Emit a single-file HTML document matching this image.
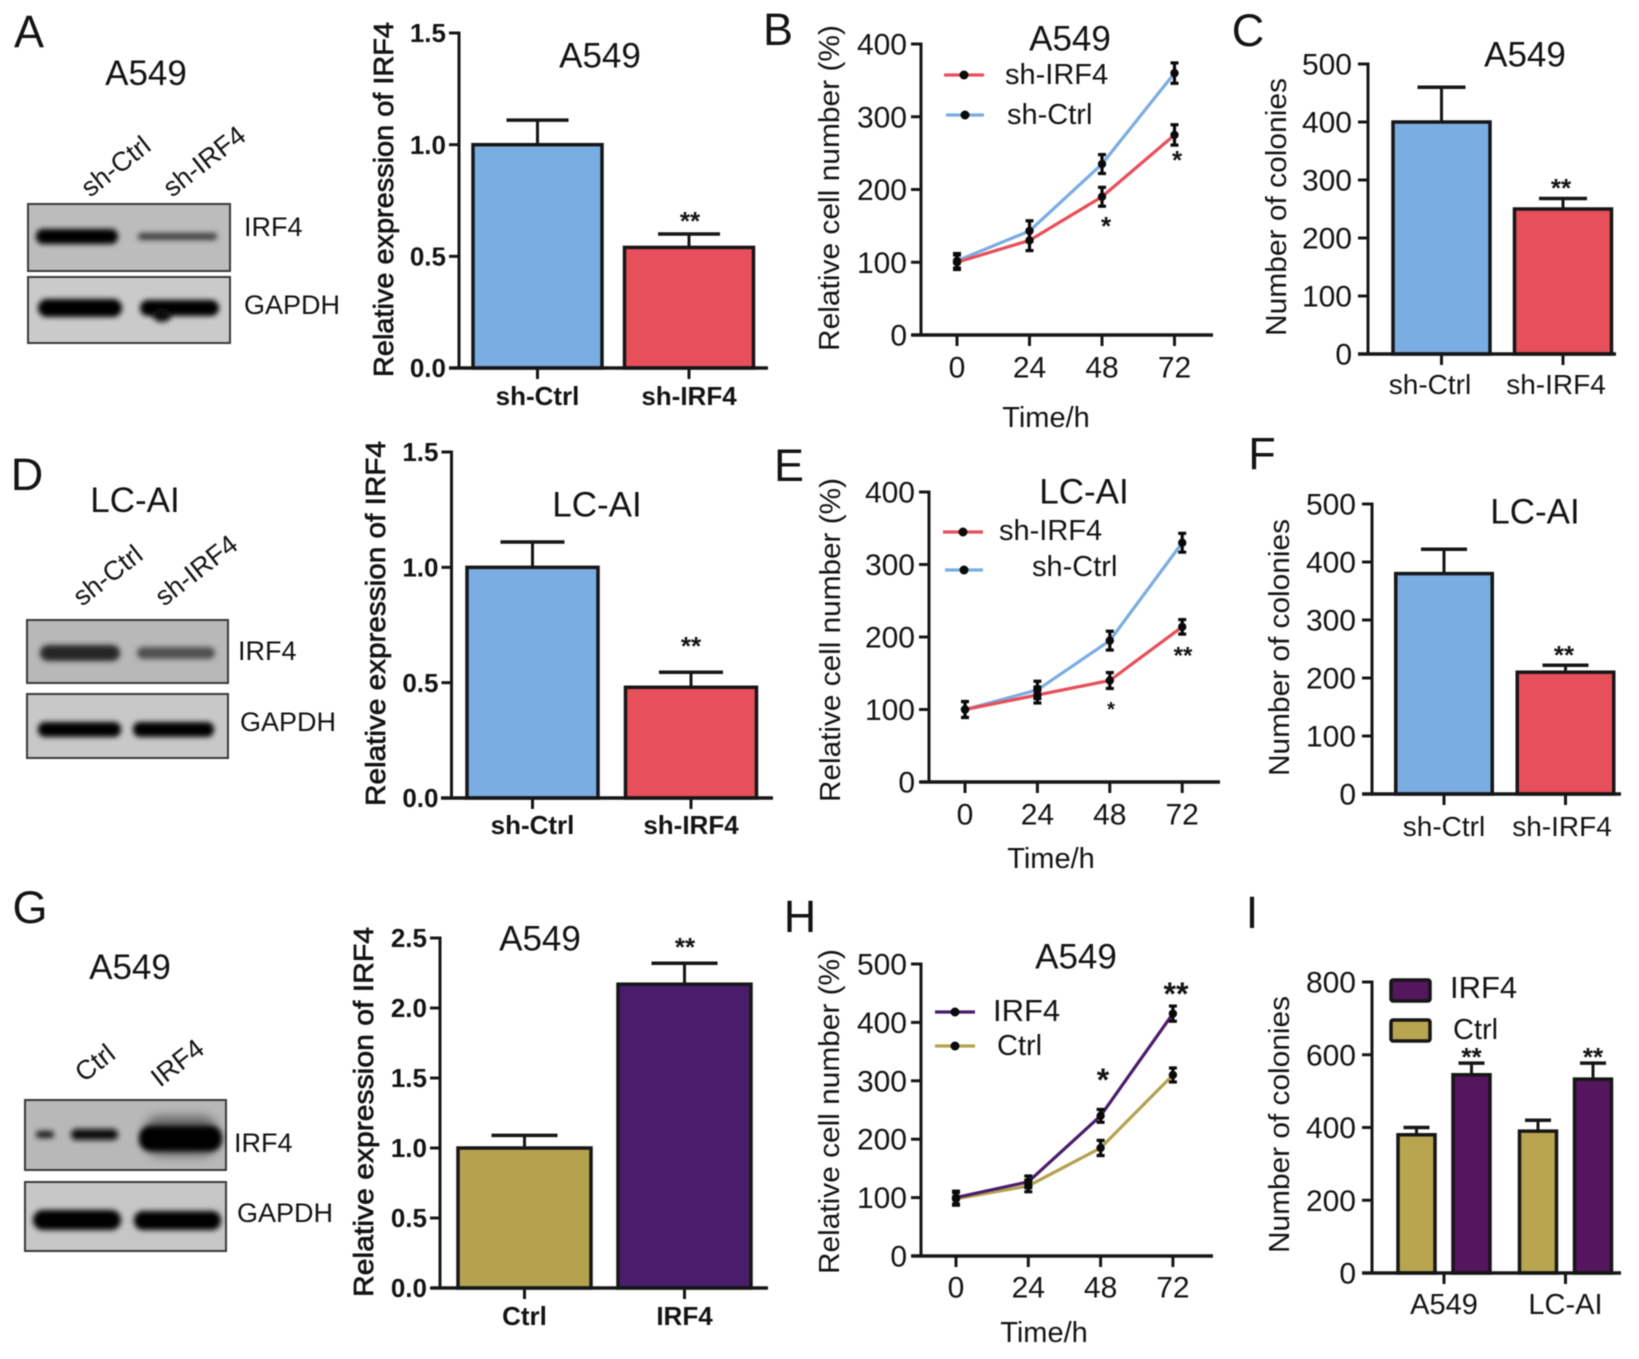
<!DOCTYPE html>
<html lang="en">
<head>
<meta charset="utf-8">
<title>IRF4 knockdown and overexpression figure</title>
<style>
html,body{margin:0;padding:0;background:#fff;width:1639px;height:1359px;overflow:hidden}
svg{display:block;filter:blur(.6px)}
text{font-family:"Liberation Sans",sans-serif;fill:#141414}
.letter{font-size:45px;text-anchor:middle}
.title{font-size:35px;text-anchor:middle}
.blot-label{font-size:27px}
.lane{font-size:27px}
</style>
</head>
<body>
<svg id="fig" xmlns="http://www.w3.org/2000/svg" width="1639" height="1359" viewBox="0 0 1639 1359">
<defs>
<filter id="b2" x="-20%" y="-80%" width="140%" height="260%"><feGaussianBlur stdDeviation="2.6"/></filter>
<filter id="b4" x="-20%" y="-120%" width="140%" height="340%"><feGaussianBlur stdDeviation="5"/></filter>
</defs>
<rect width="1639" height="1359" fill="#fff"/>

<g>
<text class="letter" x="29" y="47">A</text>
<text class="letter" x="778" y="45">B</text>
<text class="letter" x="1248" y="46">C</text>
<text class="letter" x="27" y="490">D</text>
<text class="letter" x="789" y="481">E</text>
<text class="letter" x="1262" y="469">F</text>
<text class="letter" x="30" y="923">G</text>
<text class="letter" x="800" y="932">H</text>
<text class="letter" x="1252" y="928">I</text>
</g>

<g>
<text class="title" x="146" y="85">A549</text>
<text class="lane" transform="translate(90 198) rotate(-38)">sh-Ctrl</text>
<text class="lane" transform="translate(172 198) rotate(-38)">sh-IRF4</text>
<rect x="28" y="204" width="202" height="67" fill="#bcbcbc" stroke="#3a3a3a" stroke-width="2"/>
<rect x="36" y="229" width="82" height="15" rx="7" fill="#060606" filter="url(#b2)"/>
<rect x="138" y="233" width="79" height="7" rx="3" fill="#3c3c3c" filter="url(#b2)"/>
<rect x="28" y="277" width="202" height="66" fill="#cacaca" stroke="#3a3a3a" stroke-width="2"/>
<rect x="38" y="299" width="84" height="18" rx="9" fill="#060606" filter="url(#b2)"/>
<rect x="140" y="300" width="79" height="16" rx="8" fill="#060606" filter="url(#b2)"/>
<ellipse cx="162" cy="315" rx="9" ry="7" fill="#111" filter="url(#b2)"/>
<text class="blot-label" x="244" y="236">IRF4</text>
<text class="blot-label" x="244" y="314">GAPDH</text>
</g>

<g>
<text class="title" x="135" y="512">LC-AI</text>
<text class="lane" transform="translate(82 607) rotate(-38)">sh-Ctrl</text>
<text class="lane" transform="translate(164 607) rotate(-38)">sh-IRF4</text>
<rect x="27" y="620" width="201" height="63" fill="#b8b8b8" stroke="#3a3a3a" stroke-width="2"/>
<rect x="40" y="645" width="80" height="16" rx="8" fill="#262626" filter="url(#b2)"/>
<rect x="137" y="647" width="78" height="12" rx="6" fill="#505050" filter="url(#b2)"/>
<rect x="27" y="694" width="201" height="64" fill="#c8c8c8" stroke="#3a3a3a" stroke-width="2"/>
<rect x="38" y="722" width="83" height="15" rx="7" fill="#050505" filter="url(#b2)"/>
<rect x="133" y="722" width="81" height="15" rx="7" fill="#050505" filter="url(#b2)"/>
<text class="blot-label" x="238" y="660">IRF4</text>
<text class="blot-label" x="240" y="731">GAPDH</text>
</g>

<g>
<text class="title" x="130" y="979">A549</text>
<text class="lane" transform="translate(84 1083) rotate(-38)">Ctrl</text>
<text class="lane" transform="translate(160 1088) rotate(-38)">IRF4</text>
<rect x="25" y="1100" width="201" height="70" fill="#b8b8b8" stroke="#3a3a3a" stroke-width="2"/>
<rect x="36" y="1131" width="18" height="7" rx="3" fill="#1a1a1a" filter="url(#b2)"/>
<rect x="71" y="1129" width="47" height="11" rx="5" fill="#0c0c0c" filter="url(#b2)"/>
<rect x="145" y="1116" width="72" height="40" rx="14" fill="#666" filter="url(#b4)"/>
<rect x="139" y="1126" width="83" height="25" rx="11" fill="#040404" filter="url(#b2)"/>
<rect x="25" y="1182" width="201" height="69" fill="#c6c6c6" stroke="#3a3a3a" stroke-width="2"/>
<rect x="33" y="1210" width="88" height="20" rx="10" fill="#050505" filter="url(#b2)"/>
<rect x="134" y="1211" width="87" height="19" rx="9" fill="#050505" filter="url(#b2)"/>
<text class="blot-label" x="234" y="1152">IRF4</text>
<text class="blot-label" x="237" y="1222">GAPDH</text>
</g>
</svg>

<script>
/* ---------- chart data ---------- */
const aCategories = ["sh-Ctrl", "sh-IRF4"];
const aValues = [1.0, 0.54];
const aErrors = [0.11, 0.06];
const aTicks = [0, 0.5, 1.0, 1.5];
const aTickLabels = ["0.0", "0.5", "1.0", "1.5"];

const dCategories = ["sh-Ctrl", "sh-IRF4"];
const dValues = [1.0, 0.48];
const dErrors = [0.11, 0.065];
const dTicks = [0, 0.5, 1.0, 1.5];
const dTickLabels = ["0.0", "0.5", "1.0", "1.5"];

const gCategories = ["Ctrl", "IRF4"];
const gValues = [1.0, 2.17];
const gErrors = [0.09, 0.15];
const gTicks = [0, 0.5, 1.0, 1.5, 2.0, 2.5];
const gTickLabels = ["0.0", "0.5", "1.0", "1.5", "2.0", "2.5"];

const cCategories = ["sh-Ctrl", "sh-IRF4"];
const cValues = [400, 250];
const cErrors = [60, 18];
const cTicks = [0, 100, 200, 300, 400, 500];

const fCategories = ["sh-Ctrl", "sh-IRF4"];
const fValues = [380, 210];
const fErrors = [42, 12];
const fTicks = [0, 100, 200, 300, 400, 500];

const iGroups = ["A549", "LC-AI"];
const iCtrlValues = [380, 390];
const iCtrlErrors = [20, 30];
const iIrf4Values = [545, 533];
const iIrf4Errors = [32, 44];
const iTicks = [0, 200, 400, 600, 800];

const timeCategories = ["0", "24", "48", "72"];

const bShIrf4 = [100, 130, 190, 275];
const bShIrf4Err = [10, 14, 13, 14];
const bShCtrl = [102, 143, 235, 360];
const bShCtrlErr = [10, 14, 13, 14];
const bTicks = [0, 100, 200, 300, 400];

const eShIrf4 = [100, 120, 140, 214];
const eShIrf4Err = [11, 11, 11, 10];
const eShCtrl = [100, 127, 195, 330];
const eShCtrlErr = [11, 12, 13, 13];
const eTicks = [0, 100, 200, 300, 400];

const hIrf4 = [100, 127, 240, 415];
const hIrf4Err = [11, 10, 11, 13];
const hCtrl = [98, 120, 185, 310];
const hCtrlErr = [11, 10, 13, 12];
const hTicks = [0, 100, 200, 300, 400, 500];

/* ---------- drawing helpers ---------- */
const NS = "http://www.w3.org/2000/svg";
const fig = document.getElementById("fig");
const INK = "#161616";

function make(parent, tag, attrs, name) {
  const el = document.createElementNS(NS, tag);
  for (const k in attrs) el.setAttribute(k, attrs[k]);
  
  
  parent.appendChild(el);
  return el;
}
function label(parent, str, x, yc, size, anchor, weight, name) {
  const t = make(parent, "text", {
    x: x, y: yc + 0.35 * size, "font-size": size,
    "text-anchor": anchor, "font-weight": weight
  }, name);
  t.textContent = str;
  return t;
}
function yTitle(parent, str, xc, y1, y2, size, heavy) {
  const yc = (y1 + y2) / 2;
  const base = xc + 0.35 * size;
  const attrs = {
    x: base, y: yc, "font-size": size, "text-anchor": "middle",
    transform: "rotate(-90 " + base + " " + yc + ")",
    textLength: y2 - y1, lengthAdjust: "spacingAndGlyphs"
  };
  if (heavy) { attrs.stroke = "#141414"; attrs["stroke-width"] = 0.7; }
  const t = make(parent, "text", attrs, "y-axis-title");
  t.textContent = str;
}
function linearY(c, ticks) {
  const max = ticks[ticks.length - 1];
  return v => c.y0 - (v / max) * (c.y0 - c.yTop);
}
function seg(g, x1, y1, x2, y2, w, stroke, name) {
  return make(g, "line", { x1: x1, y1: y1, x2: x2, y2: y2, "stroke-width": w, stroke: stroke }, name);
}
function drawAxes(g, c, ticks, labels, y, xPositions, xLabels) {
  seg(g, c.axisX, c.yTop - 1.5, c.axisX, c.y0, 3, INK, "y-axis-line");
  seg(g, c.xStart, c.y0, c.xEnd, c.y0, 3.5, INK, "x-axis-line");
  ticks.forEach((v, i) => {
    seg(g, c.axisX - 10, y(v), c.axisX, y(v), 3, INK, "y-tick");
    label(g, labels[i], c.axisX - c.tickGap, y(v), c.tickSize, "end", c.weight, "y-tick-label");
  });
  xPositions.forEach((x, i) => {
    seg(g, x, c.y0, x, c.y0 + 11, 3, INK, "x-tick");
    const lx = c.xLabelX ? c.xLabelX[i] : x;
    label(g, xLabels[i], lx, c.xLabelY, c.xSize, "middle", c.weight, "x-tick-label");
  });
}
function drawBar(g, cx, w, val, err, y, capHalf, fill, name) {
  seg(g, cx, y(val), cx, y(val + err), 3, INK, "error-bar");
  seg(g, cx - capHalf, y(val + err), cx + capHalf, y(val + err), 3.5, INK, "error-cap");
  make(g, "rect", {
    x: cx - w / 2, y: y(val), width: w, height: y(0) - y(val),
    fill: fill, stroke: INK, "stroke-width": 3.5
  }, name);
}
function barChart(c, categories, values, errors, ticks, tickLabels) {
  const g = make(fig, "g", {}, c.name);
  const y = linearY(c, ticks);
  const xs = categories.map((_, i) => c.first + i * c.step);
  values.forEach((v, i) => drawBar(g, xs[i], c.barW, v, errors[i], y, c.cap, c.colors[i], "bar-" + categories[i].toLowerCase()));
  drawAxes(g, c, ticks, tickLabels, y, xs, categories);
  yTitle(g, c.yLabel, c.titleX, c.titleY1, c.titleY2, c.titleSize, c.heavyTitle);
  label(g, c.title, c.headX, c.headY, 35, "middle", "normal", "chart-title");
  label(g, "**", c.starX, c.starY, 26, "middle", "bold", "significance-marker");
}
function lineChart(c, ticks, series) {
  const g = make(fig, "g", {}, c.name);
  const y = linearY(c, ticks);
  const x = i => c.first + i * c.step;
  const xs = timeCategories.map((_, i) => x(i));
  drawAxes(g, c, ticks, ticks.map(String), y, xs, timeCategories);
  series.forEach(s => {
    const pts = s.values.map((v, i) => x(i) + "," + y(v)).join(" ");
    make(g, "polyline", { points: pts, fill: "none", stroke: s.color, "stroke-width": 3.2 }, "line-" + s.key);
  });
  series.forEach(s => {
    s.values.forEach((v, i) => {
      const e = s.errors[i], px = x(i);
      seg(g, px, y(v + e), px, y(v - e), 3.2, "#0a0a0a", "error-bar");
      seg(g, px - 4, y(v + e), px + 4, y(v + e), 3.2, "#0a0a0a", "error-cap");
      seg(g, px - 4, y(v - e), px + 4, y(v - e), 3.2, "#0a0a0a", "error-cap");
      make(g, "circle", { cx: px, cy: y(v), r: 4.2, fill: "#0a0a0a" }, "point-" + s.key);
    });
    const lg = make(g, "g", {}, "legend-entry");
    seg(lg, s.legX1, s.legY, s.legX2, s.legY, 3.2, s.color, "legend-line");
    make(lg, "circle", { cx: (s.legX1 + s.legX2) / 2, cy: s.legY, r: 4.5, fill: "#0a0a0a" }, "legend-marker");
    label(lg, s.label, s.textX, s.textY, s.textSize, "start", "normal", "legend-label");
  });
  yTitle(g, "Relative cell number (%)", c.titleX, c.titleY1, c.titleY2, 29, false);
  label(g, c.title, c.headX, c.headY, 35, "middle", "normal", "chart-title");
  label(g, "Time/h", c.timeX, c.timeY, 29, "middle", "normal", "x-axis-title");
  c.stars.forEach(st => label(g, st.text, st.x, st.y, st.size, "middle", "bold", "significance-marker"));
}

const BLUE = "#7aade1", RED = "#e74f5a", GOLD = "#b5a24f", PURPLE = "#4a1c6c", MAGENTA = "#54165c";

/* ---------- panels ---------- */
barChart({ name: "panel-a-bar-chart", axisX: 459, yTop: 33, y0: 368, xStart: 449, xEnd: 768, first: 537.5, step: 151.5, barW: 129, cap: 31,
  colors: [BLUE, RED], tickGap: 13, tickSize: 26, xSize: 26, xLabelY: 396, weight: "bold", heavyTitle: true,
  yLabel: "Relative expression of IRF4", titleX: 383, titleY1: 22, titleY2: 377, titleSize: 28,
  title: "A549", headX: 600, headY: 55, starX: 690, starY: 221 },
  aCategories, aValues, aErrors, aTicks, aTickLabels);

barChart({ name: "panel-d-bar-chart", axisX: 451.5, yTop: 452, y0: 798, xStart: 441, xEnd: 773, first: 532.5, step: 158.5, barW: 131, cap: 32,
  colors: [BLUE, RED], tickGap: 13, tickSize: 26, xSize: 26, xLabelY: 825, weight: "bold", heavyTitle: true,
  yLabel: "Relative expression of IRF4", titleX: 375, titleY1: 441, titleY2: 806, titleSize: 28,
  title: "LC-AI", headX: 597, headY: 504, starX: 691, starY: 646 },
  dCategories, dValues, dErrors, dTicks, dTickLabels);

barChart({ name: "panel-g-bar-chart", axisX: 440, yTop: 938, y0: 1288, xStart: 431, xEnd: 768, first: 524.5, step: 160, barW: 133, cap: 33,
  colors: [GOLD, PURPLE], tickGap: 13, tickSize: 26, xSize: 26, xLabelY: 1316, weight: "bold", heavyTitle: true,
  yLabel: "Relative expression of IRF4", titleX: 363, titleY1: 927, titleY2: 1297, titleSize: 28,
  title: "A549", headX: 540, headY: 938, starX: 685, starY: 947 },
  gCategories, gValues, gErrors, gTicks, gTickLabels);

barChart({ name: "panel-c-bar-chart", axisX: 1368, yTop: 64, y0: 354, xStart: 1358, xEnd: 1616, first: 1441.5, step: 121.5, barW: 97, cap: 24,
  colors: [BLUE, RED], tickGap: 16, tickSize: 30, xSize: 28, xLabelY: 384, xLabelX: [1430, 1556], weight: "normal", heavyTitle: false,
  yLabel: "Number of colonies", titleX: 1276, titleY1: 78, titleY2: 336, titleSize: 29,
  title: "A549", headX: 1525, headY: 54, starX: 1561, starY: 188 },
  cCategories, cValues, cErrors, cTicks, cTicks.map(String));

barChart({ name: "panel-f-bar-chart", axisX: 1372, yTop: 504, y0: 794, xStart: 1362, xEnd: 1621, first: 1444, step: 121.5, barW: 96.5, cap: 23,
  colors: [BLUE, RED], tickGap: 16, tickSize: 30, xSize: 28, xLabelY: 826, xLabelX: [1444, 1562], weight: "normal", heavyTitle: false,
  yLabel: "Number of colonies", titleX: 1279, titleY1: 519, titleY2: 776, titleSize: 29,
  title: "LC-AI", headX: 1535, headY: 511, starX: 1564, starY: 655 },
  fCategories, fValues, fErrors, fTicks, fTicks.map(String));

(function panelI() {
  const c = { axisX: 1372, yTop: 982, y0: 1273, xStart: 1362, xEnd: 1621, tickGap: 16, tickSize: 30, xSize: 29, xLabelY: 1304, weight: "normal" };
  const g = make(fig, "g", {}, "panel-i-grouped-bar-chart");
  const y = linearY(c, iTicks);
  const centers = iGroups.map((_, i) => 1444 + i * 121.5);
  iGroups.forEach((name, i) => {
    drawBar(g, centers[i] - 27.5, 37, iCtrlValues[i], iCtrlErrors[i], y, 13, "#b8a550", "bar-ctrl-" + name.toLowerCase());
    drawBar(g, centers[i] + 27.5, 37, iIrf4Values[i], iIrf4Errors[i], y, 13, MAGENTA, "bar-irf4-" + name.toLowerCase());
    label(g, "**", centers[i] + 27.5, 1057, 26, "middle", "bold", "significance-marker");
  });
  drawAxes(g, c, iTicks, iTicks.map(String), y, centers, iGroups);
  yTitle(g, "Number of colonies", 1279, 996, 1253, 29, false);
  const leg1 = make(g, "g", {}, "legend-entry-irf4");
  make(leg1, "rect", { x: 1391, y: 980, width: 39, height: 21, rx: 2, fill: MAGENTA, stroke: INK, "stroke-width": 3.5 }, "legend-swatch");
  label(leg1, "IRF4", 1450, 987, 31, "start", "normal", "legend-label");
  const leg2 = make(g, "g", {}, "legend-entry-ctrl");
  make(leg2, "rect", { x: 1391, y: 1020, width: 39, height: 21, rx: 2, fill: "#b8a550", stroke: INK, "stroke-width": 3.5 }, "legend-swatch");
  label(leg2, "Ctrl", 1453, 1029, 29, "start", "normal", "legend-label");
})();

lineChart({ name: "panel-b-line-chart", axisX: 921, yTop: 44, y0: 335, xStart: 911.5, xEnd: 1213, first: 957, step: 72.5,
  tickGap: 14, tickSize: 30, xSize: 30, xLabelY: 367, weight: "normal",
  titleX: 829, titleY1: 25, titleY2: 351, title: "A549", headX: 1070, headY: 38, timeX: 1046, timeY: 417,
  stars: [{ text: "*", x: 1106, y: 226, size: 26 }, { text: "*", x: 1177, y: 160, size: 26 }] }, bTicks, [
  { key: "sh-ctrl", label: "sh-Ctrl", values: bShCtrl, errors: bShCtrlErr, color: BLUE, legX1: 946, legX2: 984, legY: 115, textX: 1007, textY: 114, textSize: 29 },
  { key: "sh-irf4", label: "sh-IRF4", values: bShIrf4, errors: bShIrf4Err, color: RED, legX1: 944, legX2: 984, legY: 75, textX: 1005, textY: 74, textSize: 29 }
]);

lineChart({ name: "panel-e-line-chart", axisX: 929, yTop: 492, y0: 782, xStart: 920, xEnd: 1220, first: 965, step: 72.4,
  tickGap: 14, tickSize: 30, xSize: 30, xLabelY: 814, weight: "normal",
  titleX: 830, titleY1: 478, titleY2: 802, title: "LC-AI", headX: 1084, headY: 491, timeX: 1051, timeY: 858,
  stars: [{ text: "*", x: 1111, y: 709, size: 20 }, { text: "**", x: 1183, y: 655, size: 24 }] }, eTicks, [
  { key: "sh-ctrl", label: "sh-Ctrl", values: eShCtrl, errors: eShCtrlErr, color: BLUE, legX1: 945, legX2: 983, legY: 570, textX: 1032, textY: 566, textSize: 29 },
  { key: "sh-irf4", label: "sh-IRF4", values: eShIrf4, errors: eShIrf4Err, color: RED, legX1: 943, legX2: 983, legY: 532, textX: 999, textY: 530, textSize: 29 }
]);

lineChart({ name: "panel-h-line-chart", axisX: 921, yTop: 964, y0: 1256, xStart: 911.5, xEnd: 1213, first: 956, step: 72.3,
  tickGap: 14, tickSize: 30, xSize: 30, xLabelY: 1287, weight: "normal",
  titleX: 829, titleY1: 949, titleY2: 1274, title: "A549", headX: 1076, headY: 956, timeX: 1044, timeY: 1332,
  stars: [{ text: "*", x: 1103, y: 1080, size: 32 }, { text: "**", x: 1176, y: 994, size: 32 }] }, hTicks, [
  { key: "ctrl", label: "Ctrl", values: hCtrl, errors: hCtrlErr, color: GOLD, legX1: 935, legX2: 975, legY: 1046, textX: 997, textY: 1045, textSize: 29 },
  { key: "irf4", label: "IRF4", values: hIrf4, errors: hIrf4Err, color: PURPLE, legX1: 935, legX2: 975, legY: 1012, textX: 993, textY: 1010, textSize: 31 }
]);
</script>
</body>
</html>
